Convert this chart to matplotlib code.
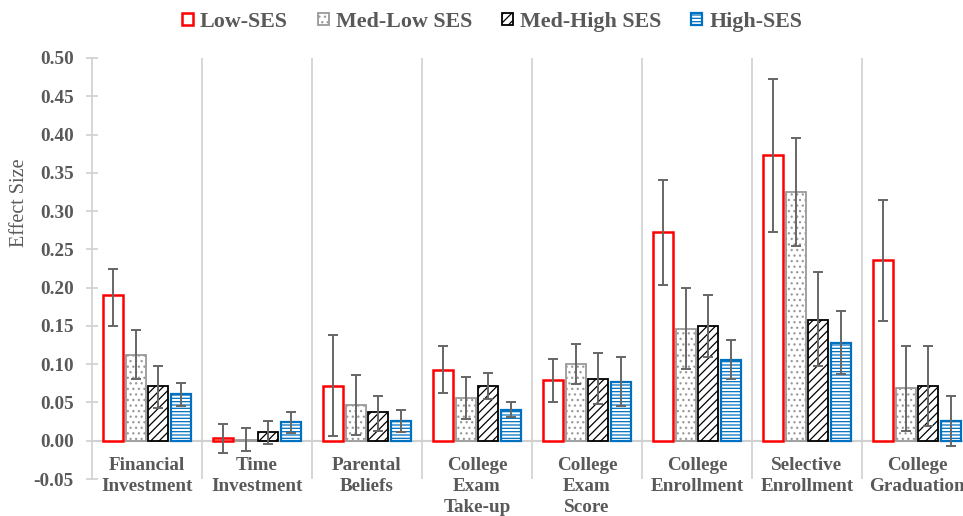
import numpy as np
import matplotlib.pyplot as plt
from matplotlib.patches import Patch

plt.rcParams["font.family"] = ["Liberation Serif", "DejaVu Serif"]
plt.rcParams["hatch.linewidth"] = 0.9

# ── Data: effect sizes with confidence bounds, by SES quartile ────────────────

CATEGORIES = ["Financial\nInvestment", "Time\nInvestment", "Parental\nBeliefs",
              "College\nExam\nTake-up", "College\nExam\nScore",
              "College\nEnrollment", "Selective\nEnrollment",
              "College\nGraduation"]

GROUPS = ["Low-SES", "Med-Low SES", "Med-High SES", "High-SES"]

LOW_SES      = [0.190, 0.004, 0.072, 0.093, 0.079, 0.273, 0.373, 0.236]
LOW_SES_LO   = [0.150, -0.016, 0.006, 0.063, 0.050, 0.204, 0.273, 0.156]
LOW_SES_HI   = [0.225, 0.022, 0.138, 0.124, 0.107, 0.341, 0.473, 0.315]

MEDLOW_SES    = [0.112, 0.001, 0.047, 0.056, 0.100, 0.146, 0.325, 0.069]
MEDLOW_SES_LO = [0.080, -0.014, 0.007, 0.029, 0.074, 0.094, 0.254, 0.013]
MEDLOW_SES_HI = [0.145, 0.017, 0.086, 0.083, 0.126, 0.200, 0.396, 0.124]

MEDHIGH_SES    = [0.071, 0.011, 0.037, 0.071, 0.081, 0.150, 0.158, 0.072]
MEDHIGH_SES_LO = [0.043, -0.004, 0.013, 0.054, 0.048, 0.110, 0.097, 0.019]
MEDHIGH_SES_HI = [0.097, 0.026, 0.059, 0.088, 0.114, 0.191, 0.220, 0.124]

HIGH_SES    = [0.061, 0.024, 0.026, 0.040, 0.077, 0.106, 0.128, 0.026]
HIGH_SES_LO = [0.046, 0.010, 0.012, 0.031, 0.045, 0.080, 0.087, -0.007]
HIGH_SES_HI = [0.076, 0.038, 0.040, 0.051, 0.109, 0.131, 0.170, 0.059]

SERIES = [
    (LOW_SES, LOW_SES_LO, LOW_SES_HI),
    (MEDLOW_SES, MEDLOW_SES_LO, MEDLOW_SES_HI),
    (MEDHIGH_SES, MEDHIGH_SES_LO, MEDHIGH_SES_HI),
    (HIGH_SES, HIGH_SES_LO, HIGH_SES_HI),
]

# edge colour, hatch, edge width for each group
STYLES = [
    ("#ff0000", "", 1.8),
    ("#9a9a9a", "...", 1.3),
    ("#000000", "////", 1.3),
    ("#0070c0", "-----", 1.6),
]

TEXT_GREY = "#595959"
AXIS_GREY = "#d0d0d0"
FS = 13.8

fig = plt.figure(figsize=(9.63, 5.16), dpi=100)
ax = fig.add_axes([0.0955, 0.0717, 0.9138, 0.8159])

x = np.arange(len(CATEGORIES))
bar_w = 0.18
step = 0.206

for i, ((vals, lo, hi), (edge, hatch, lw)) in enumerate(zip(SERIES, STYLES)):
    pos = x + (i - 1.5) * step
    vals = np.array(vals)
    ax.bar(pos, vals, width=bar_w, color="white", edgecolor=edge,
           hatch=hatch, linewidth=lw, zorder=3)
    yerr = [vals - np.array(lo), np.array(hi) - vals]
    ax.errorbar(pos, vals, yerr=yerr, fmt="none", ecolor="#666666",
                elinewidth=1.4, capsize=3.5, capthick=1.4, zorder=4)

# category separators (vertical gridlines between groups)
for b in np.arange(0.5, len(CATEGORIES), 1.0):
    ax.axvline(b, color=AXIS_GREY, linewidth=1.2, zorder=1)

ax.axhline(0, color=AXIS_GREY, linewidth=1.5, zorder=2)

ax.set_xlim(-0.5, len(CATEGORIES) - 0.5)
ax.set_ylim(-0.05, 0.50)
yt = np.arange(-0.05, 0.501, 0.05)
ax.set_yticks(yt)
ax.set_yticklabels([f"{v:.2f}" for v in yt],
                   fontsize=FS, fontweight="bold", color=TEXT_GREY)
ax.tick_params(axis="y", direction="inout", length=8, width=1.2,
               color=AXIS_GREY, pad=9)
ax.set_xticks([])

for side in ["top", "right", "bottom"]:
    ax.spines[side].set_visible(False)
ax.spines["left"].set_color(AXIS_GREY)
ax.spines["left"].set_linewidth(1.2)

# category names sit just under the zero line
for xi, label in zip(x, CATEGORIES):
    ax.text(xi, -0.021, label, ha="center", va="top", fontsize=FS,
            fontweight="bold", color=TEXT_GREY, linespacing=1.3)

fig.text(19 / 963, 1 - 203 / 516, "Effect Size", rotation=90,
         ha="center", va="center", fontsize=14.5, color=TEXT_GREY)

handles = [Patch(facecolor="white", edgecolor=e, hatch=h, linewidth=lw)
           for e, h, lw in STYLES]
leg = fig.legend(handles, GROUPS, loc="center", ncol=4,
                 bbox_to_anchor=(0.511, 1 - 22 / 516), frameon=False,
                 prop={"size": 15.8, "weight": "bold"},
                 handlelength=0.5, handleheight=0.5, handletextpad=0.32,
                 columnspacing=1.37, borderpad=0)
for t in leg.get_texts():
    t.set_color(TEXT_GREY)

fig.savefig("out.png", dpi=100)
